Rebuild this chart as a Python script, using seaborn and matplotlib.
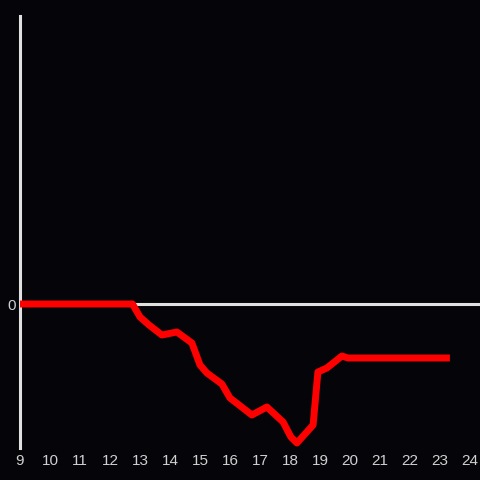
import matplotlib
matplotlib.use("Agg")
import matplotlib.pyplot as plt
import seaborn as sns
import pandas as pd

hours = [9.0, 12.75, 13.0, 13.3, 13.73, 14.23, 14.73, 15.0, 15.23, 15.73, 16.0,
         16.73, 17.23, 17.77, 18.03, 18.23, 18.77, 18.93, 19.23, 19.73, 19.93, 23.33]
values = [0, 0, -1.3, -2.1, -3.1, -2.8, -3.9, -6.1, -6.9, -8.0, -9.4,
          -11.1, -10.3, -11.8, -13.3, -13.9, -12.1, -6.8, -6.4, -5.2, -5.4, -5.4]
xticks = list(range(9, 25))
yticks = [0]

bg = "#050408"
fg = "#e0e0e0"
txt = "#d0d0d0"

sns.set_theme(style="dark")
plt.rcParams['font.family'] = ['Liberation Sans', 'DejaVu Sans']

fig = plt.figure(figsize=(4.8, 4.8), dpi=100, facecolor=bg)
ax = fig.add_axes([20/480, 32/480, 460/480, 432/480])
ax.set_facecolor(bg)

df = pd.DataFrame({"hour": hours, "value": values})
ax.axhline(0, color=fg, lw=2.2, zorder=1)
sns.lineplot(data=df, x="hour", y="value", sort=False, ax=ax, color="#ff0000",
             lw=5.0, zorder=3, solid_capstyle="butt", solid_joinstyle="round")

ax.set_xlim(9, 9 + 460/30)
ax.set_ylim(-14.4, 28.8)
ax.set_xticks(xticks)
ax.set_xticklabels([str(t) for t in xticks])
ax.set_yticks(yticks)
ax.set_yticklabels([str(t) for t in yticks])
ax.tick_params(axis="both", length=0, colors=txt, labelsize=11)
ax.tick_params(axis="x", pad=4)
ax.tick_params(axis="y", pad=3)
ax.set_xlabel("")
ax.set_ylabel("")
ax.grid(False)
for s in ["top", "right", "bottom"]:
    ax.spines[s].set_visible(False)
ax.spines["left"].set_color(fg)
ax.spines["left"].set_linewidth(2.2)

fig.savefig("out.png", dpi=100, facecolor=bg)
